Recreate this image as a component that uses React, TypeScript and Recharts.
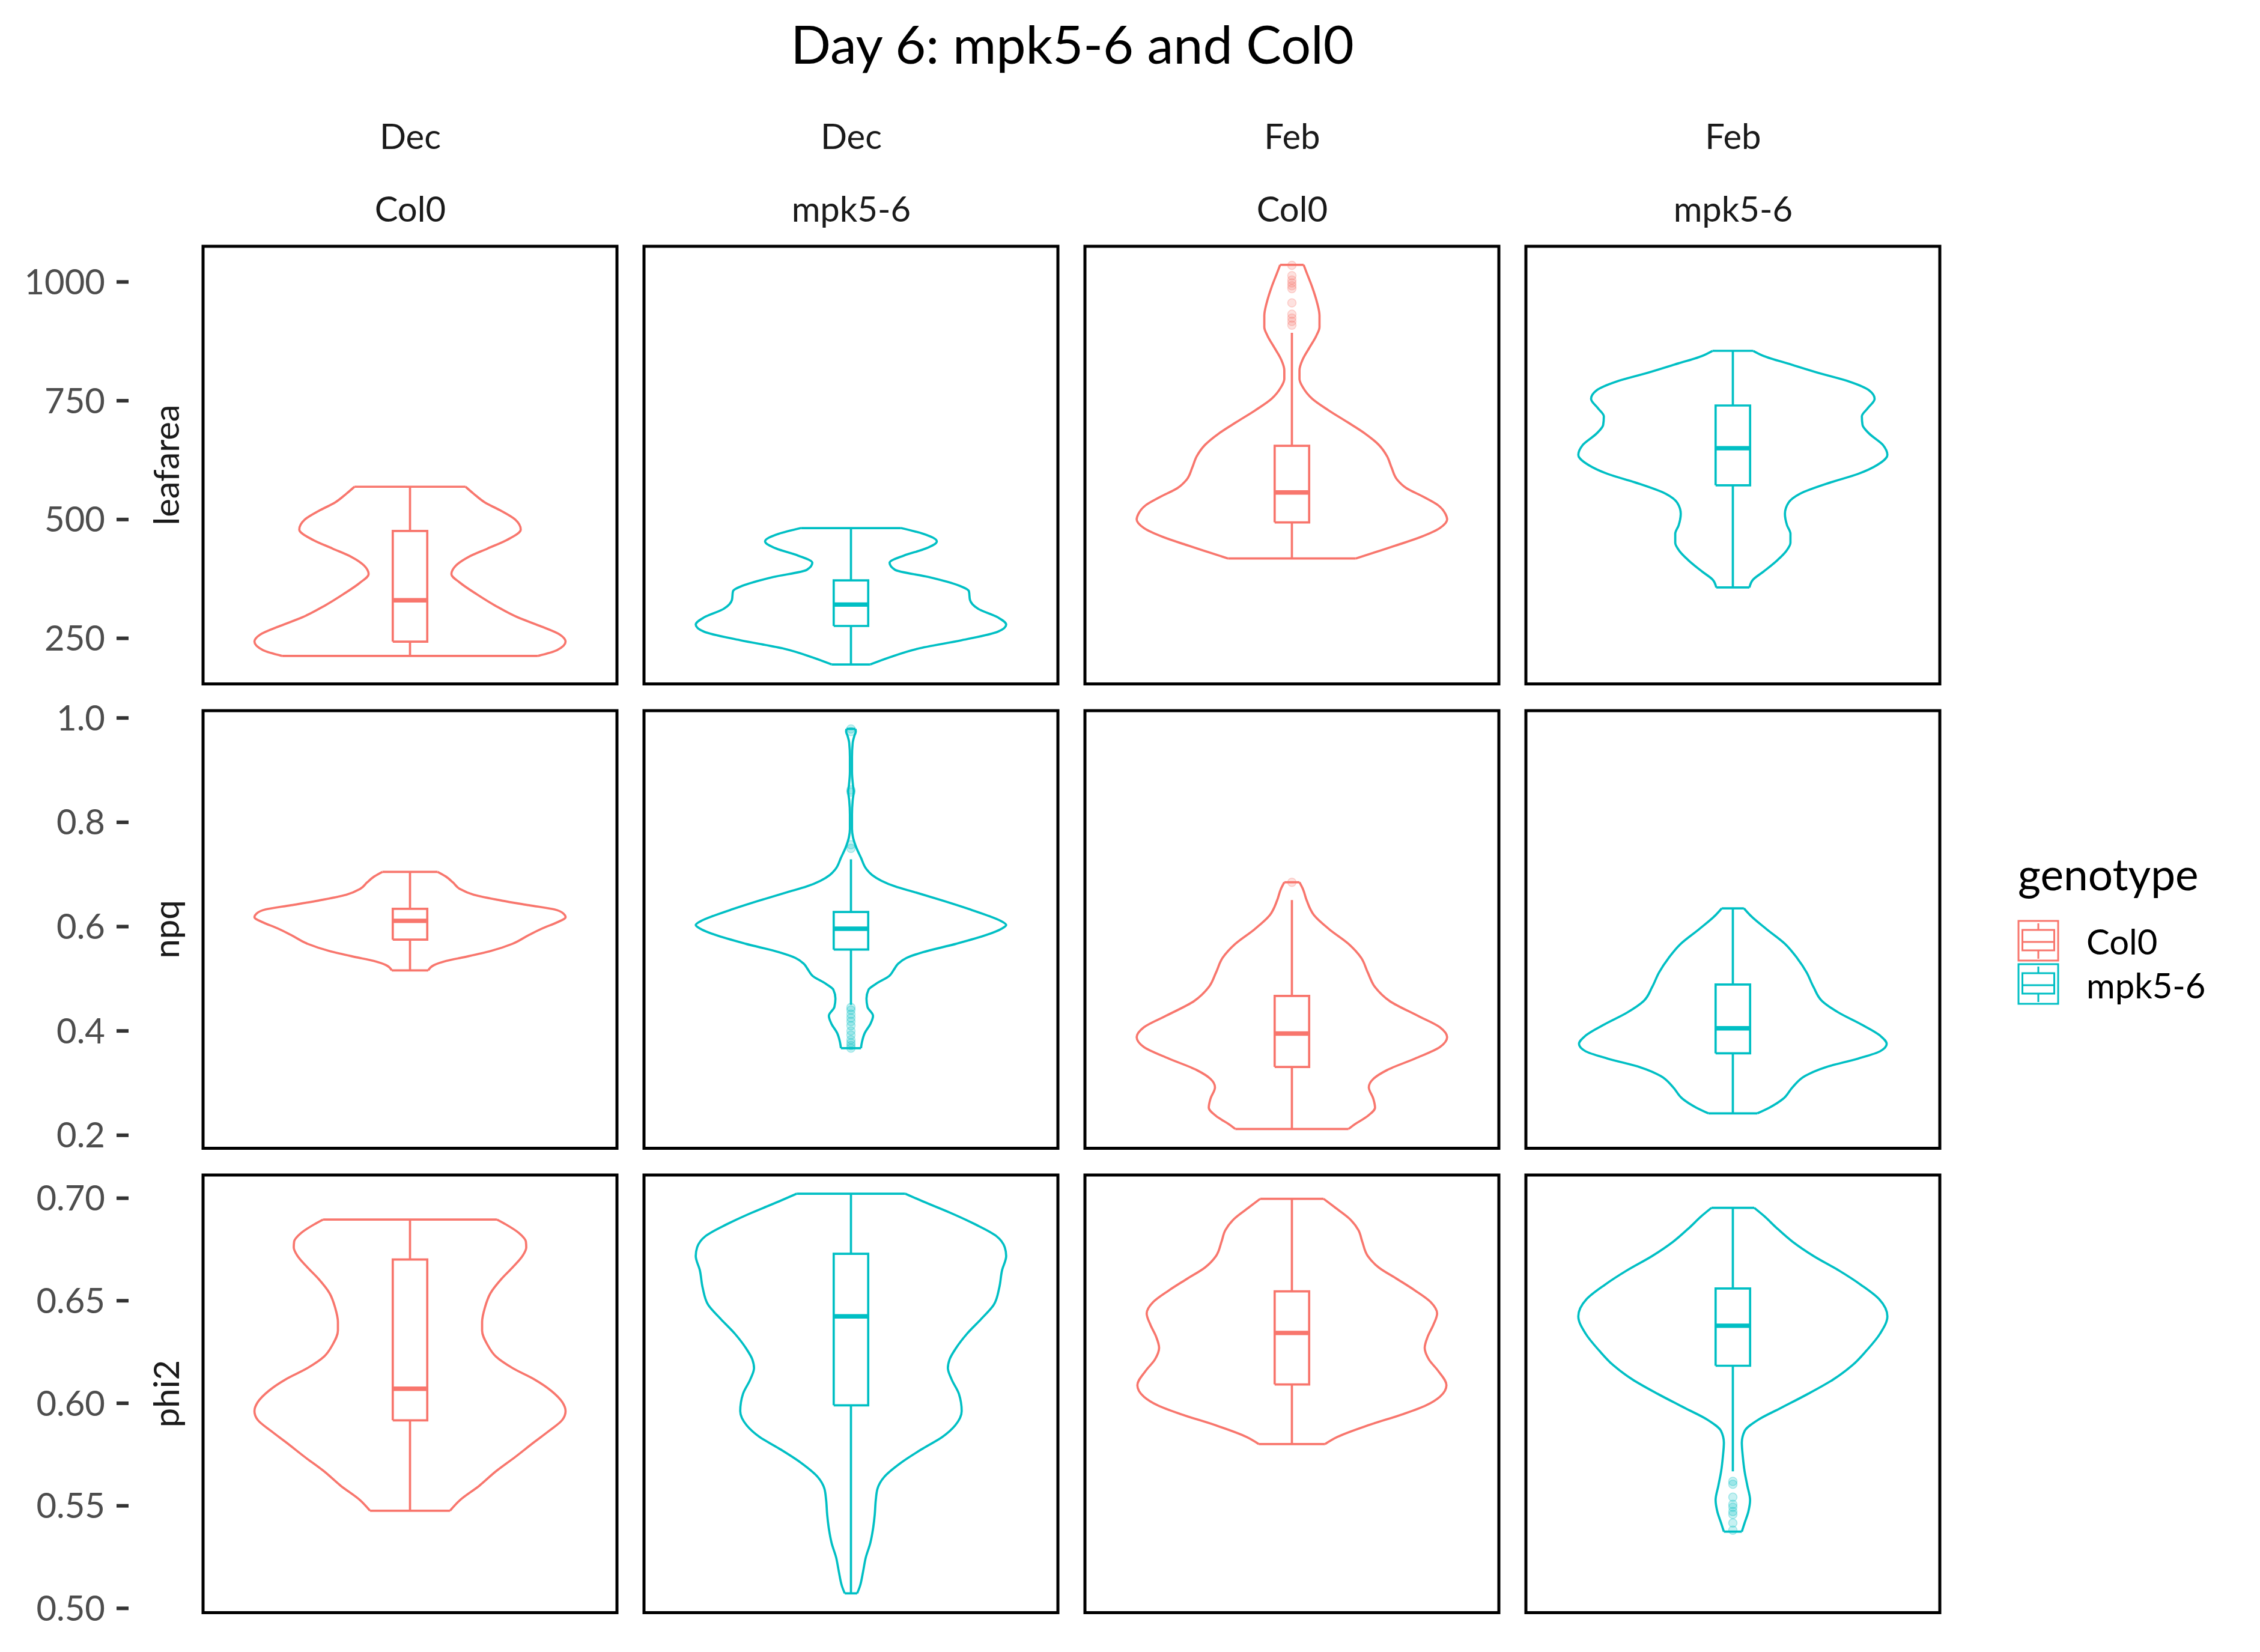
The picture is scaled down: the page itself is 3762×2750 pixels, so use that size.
import React from 'react';
import { ScatterChart, Scatter, XAxis, YAxis, ReferenceArea } from 'recharts';

// ggplot default hues
const COL0_COLOR = '#F8766D';
const MPK_COLOR = '#00BFC4';

const months = ['Dec', 'Dec', 'Feb', 'Feb'];
const genotypes = ['Col0', 'mpk5-6', 'Col0', 'mpk5-6'];
const variables = ['leafarea', 'npq', 'phi2'];

const leafareaTicks = [250, 500, 750, 1000];
const npqTicks = [0.2, 0.4, 0.6, 0.8, 1.0];
const phi2Ticks = [0.5, 0.55, 0.6, 0.65, 0.7];

const leafareaDomain = [154, 1075];
const npqDomain = [0.175, 1.014];
const phi2Domain = [0.4979, 0.7113];

// violin outlines: value (top -> bottom) and half width, box = [min, q1, median, q3, max]
const leafDecCol0Y = [569, 554, 536, 518, 500, 479, 457, 439, 421, 403, 385, 367, 343, 318, 294, 276, 258, 243, 225, 213];
const leafDecCol0W = [0.161, 0.185, 0.217, 0.265, 0.305, 0.321, 0.281, 0.225, 0.169, 0.133, 0.12, 0.145, 0.193, 0.249, 0.313, 0.377, 0.434, 0.451, 0.426, 0.371];
const leafDecCol0Box = [213, 243, 330, 476, 569];
const leafDecCol0Out: number[] = [];

const leafDecMpkY = [482, 470, 454, 439, 424, 409, 394, 379, 361, 349, 331, 312, 294, 279, 264, 246, 228, 210, 195];
const leafDecMpkW = [0.145, 0.209, 0.249, 0.217, 0.153, 0.112, 0.128, 0.225, 0.313, 0.342, 0.345, 0.369, 0.426, 0.45, 0.426, 0.321, 0.193, 0.112, 0.056];
const leafDecMpkBox = [195, 276, 321, 372, 482];
const leafDecMpkOut: number[] = [];

const leafFebCol0Y = [1036, 1019, 989, 959, 929, 905, 887, 862, 838, 814, 796, 778, 754, 729, 705, 681, 657, 633, 609, 584, 566, 548, 530, 512, 500, 482, 463, 445, 430, 418];
const leafFebCol0W = [0.034, 0.043, 0.059, 0.072, 0.08, 0.08, 0.071, 0.051, 0.032, 0.022, 0.022, 0.032, 0.059, 0.108, 0.161, 0.212, 0.252, 0.276, 0.289, 0.305, 0.332, 0.381, 0.424, 0.445, 0.45, 0.429, 0.373, 0.3, 0.236, 0.185];
const leafFebCol0Box = [418, 494, 557, 655, 893];
const leafFebCol0Out = [1035, 1013, 1004, 998, 992, 986, 956, 932, 924, 917, 909];

const leafFebMpkY = [855, 844, 826, 808, 790, 772, 754, 735, 717, 699, 681, 657, 636, 615, 596, 578, 554, 536, 512, 488, 470, 451, 433, 415, 391, 373, 357];
const leafFebMpkW = [0.059, 0.09, 0.17, 0.251, 0.339, 0.395, 0.411, 0.392, 0.374, 0.376, 0.395, 0.435, 0.448, 0.419, 0.363, 0.283, 0.194, 0.162, 0.151, 0.157, 0.167, 0.167, 0.154, 0.13, 0.09, 0.058, 0.048];
const leafFebMpkBox = [357, 572, 650, 740, 855];
const leafFebMpkOut: number[] = [];

const npqDecCol0Y = [0.705, 0.696, 0.685, 0.672, 0.661, 0.65, 0.641, 0.633, 0.625, 0.618, 0.608, 0.597, 0.584, 0.567, 0.553, 0.542, 0.534, 0.526, 0.516];
const npqDecCol0W = [0.08, 0.104, 0.124, 0.145, 0.185, 0.265, 0.345, 0.418, 0.445, 0.451, 0.426, 0.385, 0.345, 0.297, 0.233, 0.161, 0.104, 0.069, 0.053];
const npqDecCol0Box = [0.516, 0.575, 0.611, 0.634, 0.705];
const npqDecCol0Out: number[] = [];

const npqDecMpkY = [0.979, 0.974, 0.966, 0.952, 0.925, 0.897, 0.87, 0.859, 0.842, 0.815, 0.787, 0.771, 0.754, 0.732, 0.71, 0.699, 0.688, 0.677, 0.666, 0.65, 0.633, 0.622, 0.611, 0.603, 0.595, 0.584, 0.567, 0.551, 0.54, 0.529, 0.518, 0.506, 0.49, 0.479, 0.462, 0.446, 0.429, 0.413, 0.396, 0.379, 0.367];
const npqDecMpkW = [0.013, 0.014, 0.01, 0.005, 0.003, 0.003, 0.006, 0.008, 0.005, 0.003, 0.003, 0.006, 0.014, 0.029, 0.045, 0.061, 0.088, 0.128, 0.185, 0.265, 0.345, 0.393, 0.434, 0.45, 0.434, 0.393, 0.305, 0.209, 0.161, 0.137, 0.125, 0.112, 0.072, 0.051, 0.045, 0.048, 0.064, 0.056, 0.04, 0.032, 0.029];
const npqDecMpkBox = [0.45, 0.556, 0.596, 0.628, 0.729];
const npqDecMpkOut = [0.979, 0.974, 0.862, 0.858, 0.757, 0.75, 0.445, 0.44, 0.432, 0.425, 0.418, 0.41, 0.4, 0.392, 0.383, 0.377, 0.372, 0.367];

const npqFebCol0Y = [0.685, 0.672, 0.65, 0.622, 0.595, 0.567, 0.54, 0.512, 0.484, 0.457, 0.429, 0.407, 0.388, 0.369, 0.347, 0.325, 0.308, 0.292, 0.27, 0.253, 0.237, 0.22, 0.212];
const npqFebCol0W = [0.022, 0.032, 0.043, 0.064, 0.108, 0.164, 0.201, 0.22, 0.241, 0.284, 0.365, 0.429, 0.45, 0.429, 0.357, 0.276, 0.236, 0.223, 0.236, 0.241, 0.22, 0.18, 0.164];
const npqFebCol0Box = [0.212, 0.331, 0.395, 0.467, 0.651];
const npqFebCol0Out = [0.685];

const npqFebMpkY = [0.635, 0.622, 0.595, 0.567, 0.54, 0.512, 0.484, 0.457, 0.435, 0.413, 0.391, 0.375, 0.361, 0.347, 0.33, 0.314, 0.292, 0.27, 0.253, 0.242];
const npqFebMpkW = [0.032, 0.05, 0.098, 0.151, 0.186, 0.214, 0.234, 0.259, 0.307, 0.371, 0.427, 0.446, 0.427, 0.363, 0.267, 0.21, 0.173, 0.146, 0.106, 0.071];
const npqFebMpkBox = [0.242, 0.357, 0.405, 0.489, 0.635];
const npqFebMpkOut: number[] = [];

const phiDecCol0Y = [0.6896, 0.6872, 0.683, 0.6788, 0.676, 0.6718, 0.6662, 0.6606, 0.6536, 0.6466, 0.6396, 0.6354, 0.6284, 0.6228, 0.6172, 0.6116, 0.606, 0.6004, 0.5962, 0.592, 0.5864, 0.5808, 0.5738, 0.5668, 0.5598, 0.5528, 0.5476];
const phiDecCol0W = [0.252, 0.278, 0.316, 0.336, 0.337, 0.326, 0.297, 0.265, 0.233, 0.217, 0.209, 0.209, 0.225, 0.249, 0.297, 0.361, 0.41, 0.442, 0.451, 0.442, 0.402, 0.358, 0.305, 0.249, 0.201, 0.145, 0.116];
const phiDecCol0Box = [0.5476, 0.5917, 0.6071, 0.6701, 0.6896];
const phiDecCol0Out: number[] = [];

const phiDecMpkY = [0.7022, 0.6984, 0.6928, 0.6872, 0.6816, 0.676, 0.6718, 0.6648, 0.6564, 0.648, 0.641, 0.634, 0.627, 0.6214, 0.6172, 0.6116, 0.6046, 0.5962, 0.5892, 0.5836, 0.578, 0.571, 0.564, 0.5584, 0.5528, 0.5458, 0.5388, 0.5318, 0.5248, 0.5178, 0.5108, 0.5073];
const phiDecMpkW = [0.157, 0.209, 0.289, 0.361, 0.421, 0.446, 0.45, 0.438, 0.43, 0.414, 0.377, 0.337, 0.305, 0.286, 0.281, 0.292, 0.313, 0.321, 0.302, 0.265, 0.209, 0.145, 0.096, 0.077, 0.072, 0.069, 0.064, 0.056, 0.043, 0.035, 0.026, 0.018];
const phiDecMpkBox = [0.5073, 0.599, 0.6424, 0.6729, 0.7022];
const phiDecMpkOut: number[] = [];

const phiFebCol0Y = [0.6997, 0.6956, 0.69, 0.6844, 0.6788, 0.6718, 0.6662, 0.6606, 0.655, 0.6494, 0.6438, 0.6382, 0.6326, 0.627, 0.6214, 0.6158, 0.6088, 0.6032, 0.599, 0.5948, 0.5892, 0.5836, 0.5801];
const phiFebCol0W = [0.092, 0.124, 0.167, 0.193, 0.204, 0.22, 0.252, 0.305, 0.357, 0.402, 0.421, 0.41, 0.394, 0.385, 0.397, 0.424, 0.448, 0.429, 0.389, 0.324, 0.22, 0.132, 0.096];
const phiFebCol0Box = [0.5801, 0.6092, 0.6343, 0.6546, 0.6997];
const phiFebCol0Out: number[] = [];

const phiFebMpkY = [0.6953, 0.6914, 0.6858, 0.6788, 0.6718, 0.6648, 0.6578, 0.6508, 0.6424, 0.634, 0.6256, 0.6186, 0.6116, 0.6046, 0.5976, 0.592, 0.5864, 0.5808, 0.5738, 0.5668, 0.5598, 0.5528, 0.5472, 0.5416, 0.5374];
const phiFebMpkW = [0.062, 0.09, 0.125, 0.173, 0.234, 0.307, 0.371, 0.424, 0.448, 0.427, 0.387, 0.347, 0.291, 0.218, 0.138, 0.074, 0.034, 0.026, 0.029, 0.034, 0.042, 0.05, 0.045, 0.034, 0.026];
const phiFebMpkBox = [0.5668, 0.6183, 0.6378, 0.656, 0.6953];
const phiFebMpkOut = [0.5619, 0.5605, 0.5542, 0.5507, 0.5493, 0.5472, 0.5458, 0.5416, 0.5381];

// layout (px)
const PANEL_W = 689;
const PANEL_H = 728.5;
const LEFT0 = 338.4;
const TOP0 = 409.7;
const COL_STEP = 734;
const ROW_STEP = 773;
const PAD = 6;
const AXIS_PAD = 50;
const AXIS_W = 214;
const BOX_HW = 0.05;
const LINE_W = 3.7;
const FONT = 'Lato, "Open Sans", sans-serif';

const hidden = () => <g />;

const rows = [
  { domain: leafareaDomain, ticks: leafareaTicks, fmt: (v: number) => String(v) },
  { domain: npqDomain, ticks: npqTicks, fmt: (v: number) => v.toFixed(1) },
  { domain: phi2Domain, ticks: phi2Ticks, fmt: (v: number) => v.toFixed(2) },
];

const panels = [
  [
    [leafDecCol0Y, leafDecCol0W, leafDecCol0Box, leafDecCol0Out],
    [leafDecMpkY, leafDecMpkW, leafDecMpkBox, leafDecMpkOut],
    [leafFebCol0Y, leafFebCol0W, leafFebCol0Box, leafFebCol0Out],
    [leafFebMpkY, leafFebMpkW, leafFebMpkBox, leafFebMpkOut],
  ],
  [
    [npqDecCol0Y, npqDecCol0W, npqDecCol0Box, npqDecCol0Out],
    [npqDecMpkY, npqDecMpkW, npqDecMpkBox, npqDecMpkOut],
    [npqFebCol0Y, npqFebCol0W, npqFebCol0Box, npqFebCol0Out],
    [npqFebMpkY, npqFebMpkW, npqFebMpkBox, npqFebMpkOut],
  ],
  [
    [phiDecCol0Y, phiDecCol0W, phiDecCol0Box, phiDecCol0Out],
    [phiDecMpkY, phiDecMpkW, phiDecMpkBox, phiDecMpkOut],
    [phiFebCol0Y, phiFebCol0W, phiFebCol0Box, phiFebCol0Out],
    [phiFebMpkY, phiFebMpkW, phiFebMpkBox, phiFebMpkOut],
  ],
];

function ViolinPanel({ ys, ws, box, out, color, domain, left, top }: any) {
  const last = ys.length - 1;
  const rightSide = ys.map((y: number, i: number) => ({ x: ws[i], y }));
  const leftSide = ys.map((y: number, i: number) => ({ x: -ws[i], y }));
  const topCap = [{ x: -ws[0], y: ys[0] }, { x: ws[0], y: ys[0] }];
  const bottomCap = [{ x: -ws[last], y: ys[last] }, { x: ws[last], y: ys[last] }];
  const [lo, q1, med, q3, hi] = box;
  const boxRect = [
    { x: -BOX_HW, y: q1 }, { x: BOX_HW, y: q1 }, { x: BOX_HW, y: q3 },
    { x: -BOX_HW, y: q3 }, { x: -BOX_HW, y: q1 },
  ];
  const median = [{ x: -BOX_HW, y: med }, { x: BOX_HW, y: med }];
  const whiskerUp = [{ x: 0, y: q3 }, { x: 0, y: hi }];
  const whiskerDown = [{ x: 0, y: lo }, { x: 0, y: q1 }];
  const outliers = out.map((y: number) => ({ x: 0, y }));
  const ln = { stroke: color, strokeWidth: LINE_W };

  return (
    <div style={{ position: 'absolute', left: left - PAD, top: top - PAD }}>
      <ScatterChart width={PANEL_W + 2 * PAD} height={PANEL_H + 2 * PAD}
        margin={{ top: PAD, right: PAD, bottom: PAD, left: PAD }}>
        <XAxis type="number" dataKey="x" domain={[-0.6, 0.6]} hide allowDataOverflow />
        <YAxis type="number" dataKey="y" domain={domain} hide allowDataOverflow />
        <Scatter data={outliers} isAnimationActive={false}
          shape={(p: any) => (
            <circle cx={p.cx} cy={p.cy} r={7} fill={color} fillOpacity={0.22}
              stroke={color} strokeOpacity={0.3} strokeWidth={1.5} />
          )} />
        <Scatter data={rightSide} line={ln} lineJointType="monotoneY" shape={hidden} isAnimationActive={false} />
        <Scatter data={leftSide} line={ln} lineJointType="monotoneY" shape={hidden} isAnimationActive={false} />
        <Scatter data={topCap} line={ln} shape={hidden} isAnimationActive={false} />
        <Scatter data={bottomCap} line={ln} shape={hidden} isAnimationActive={false} />
        <Scatter data={whiskerUp} line={ln} shape={hidden} isAnimationActive={false} />
        <Scatter data={whiskerDown} line={ln} shape={hidden} isAnimationActive={false} />
        <Scatter data={boxRect} line={ln} shape={hidden} isAnimationActive={false} />
        <Scatter data={median} line={{ stroke: color, strokeWidth: LINE_W * 2 }} shape={hidden} isAnimationActive={false} />
        <ReferenceArea x1={-0.6} x2={0.6} y1={domain[0]} y2={domain[1]} fill="none"
          stroke="#000" strokeWidth={5} ifOverflow="visible" />
      </ScatterChart>
    </div>
  );
}

function RowAxis({ domain, ticks, fmt, top }: any) {
  const pts = ticks.map((t: number) => ({ x: 0.5, y: t }));
  return (
    <div style={{ position: 'absolute', left: 0, top: top - AXIS_PAD }}>
      <ScatterChart width={AXIS_W + 10} height={PANEL_H + 2 * AXIS_PAD}
        margin={{ top: AXIS_PAD, right: 0, bottom: AXIS_PAD, left: 0 }}>
        <XAxis type="number" dataKey="x" domain={[0, 1]} hide />
        <YAxis type="number" dataKey="y" domain={domain} ticks={ticks} interval={0}
          width={AXIS_W} tickSize={20} tickMargin={19} tickFormatter={fmt}
          axisLine={false} tickLine={{ stroke: '#333333', strokeWidth: 6 }}
          tick={{ fill: '#4D4D4D', fontSize: 58, fontFamily: FONT }} allowDataOverflow />
        <Scatter data={pts} shape={hidden} isAnimationActive={false} />
      </ScatterChart>
    </div>
  );
}

function LegendKey({ color, y }: any) {
  const x = 3360;
  return (
    <g>
      <rect x={x} y={y} width={66} height={66} fill="none" stroke={color} strokeWidth={3} />
      <rect x={x + 6.5} y={y + 15} width={53} height={34} fill="none" stroke={color} strokeWidth={3} />
      <line x1={x + 6.5} x2={x + 59.5} y1={y + 35} y2={y + 35} stroke={color} strokeWidth={3} />
      <line x1={x + 33} x2={x + 33} y1={y + 4} y2={y + 15} stroke={color} strokeWidth={3} />
      <line x1={x + 33} x2={x + 33} y1={y + 49} y2={y + 63} stroke={color} strokeWidth={3} />
    </g>
  );
}

export default function App() {
  const colors = [COL0_COLOR, MPK_COLOR, COL0_COLOR, MPK_COLOR];
  return (
    <div style={{ position: 'absolute', left: 0, top: 0, width: 3762, height: 2750, background: '#fff', overflow: 'hidden' }}>
      <svg width={3762} height={2750} style={{ position: 'absolute', left: 0, top: 0 }} fontFamily={FONT}>
        <text x={1785} y={106} textAnchor="middle" fontSize={88} fill="#000">Day 6: mpk5-6 and Col0</text>
        {months.map((m, c) => (
          <g key={c}>
            <text x={LEFT0 + c * COL_STEP + PANEL_W / 2} y={248} textAnchor="middle" fontSize={58} fill="#1A1A1A">{m}</text>
            <text x={LEFT0 + c * COL_STEP + PANEL_W / 2} y={369} textAnchor="middle" fontSize={58} fill="#1A1A1A">{genotypes[c]}</text>
          </g>
        ))}
        {variables.map((v, r) => (
          <text key={v} transform={`translate(298, ${TOP0 + r * ROW_STEP + PANEL_H / 2}) rotate(-90)`}
            textAnchor="middle" fontSize={58} fill="#1A1A1A">{v}</text>
        ))}
        <text x={3359} y={1482} fontSize={73} fill="#000">genotype</text>
        <LegendKey color={COL0_COLOR} y={1533} />
        <LegendKey color={MPK_COLOR} y={1605} />
        <text x={3473} y={1589} fontSize={58} fill="#000">Col0</text>
        <text x={3473} y={1662} fontSize={58} fill="#000">mpk5-6</text>
      </svg>
      {rows.map((row, r) => (
        <RowAxis key={'ax' + r} domain={row.domain} ticks={row.ticks} fmt={row.fmt} top={TOP0 + r * ROW_STEP} />
      ))}
      {panels.map((rowPanels, r) =>
        rowPanels.map(([ys, ws, box, out], c) => (
          <ViolinPanel key={r + '-' + c} ys={ys} ws={ws} box={box} out={out} color={colors[c]}
            domain={rows[r].domain} left={LEFT0 + c * COL_STEP} top={TOP0 + r * ROW_STEP} />
        ))
      )}
    </div>
  );
}
